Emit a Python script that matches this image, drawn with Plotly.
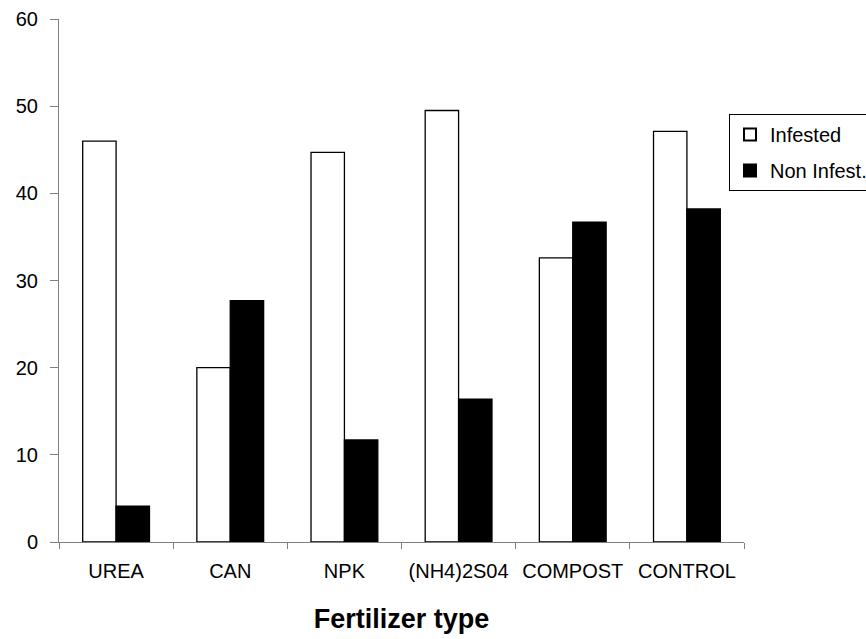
import plotly.graph_objects as go

categories = ["UREA", "CAN", "NPK", "(NH4)2S04", "COMPOST", "CONTROL"]
infested = [46.0, 20.0, 44.7, 49.5, 32.6, 47.1]
non_infested = [4.1, 27.7, 11.7, 16.4, 36.7, 38.2]
y_ticks = [0, 10, 20, 30, 40, 50, 60]

FONT = "Liberation Sans, Arial, sans-serif"

fig = go.Figure()
fig.add_trace(go.Bar(
    x=categories, y=infested, name="Infested", legendgroup="a",
    marker=dict(color="white", line=dict(color="black", width=1.3)),
))
fig.add_trace(go.Bar(
    x=categories, y=non_infested, name="Non Infest.", legendgroup="b",
    marker=dict(color="black", line=dict(color="black", width=1.3)),
))

W, H = 866, 639
L, R, T, B = 59.3, 122, 19.3, 96.7
plot_w = W - L - R
plot_h = H - T - B

fig.update_layout(
    width=W, height=H,
    margin=dict(l=L, r=R, t=T, b=B, pad=0, autoexpand=False),
    paper_bgcolor="white", plot_bgcolor="white",
    barmode="group", bargap=0.415, bargroupgap=0,
    font=dict(family=FONT, size=20, color="black"),
    showlegend=True,
    legend=dict(
        xref="paper", yref="paper",
        x=(729 - L) / plot_w, xanchor="left",
        y=1 - (114.3 - T) / plot_h, yanchor="top",
        bordercolor="black", borderwidth=1, bgcolor="white",
        font=dict(family=FONT, size=20, color="black"),
        tracegroupgap=7, traceorder="grouped",
        itemsizing="constant",
    ),
    xaxis=dict(
        type="category",
        showline=True, linecolor="#808080", linewidth=1,
        ticks="outside", ticklen=6, tickcolor="#808080", tickwidth=1,
        tickson="boundaries",
        showgrid=False, zeroline=False,
        tickfont=dict(family=FONT, size=20, color="black"),
        ticklabelstandoff=11,
        title=dict(text="<b>Fertilizer type</b>", standoff=28,
                   font=dict(family=FONT, size=27, color="black")),
        automargin=False,
    ),
    yaxis=dict(
        range=[0, 60], tickvals=y_ticks,
        showline=True, linecolor="#808080", linewidth=1,
        ticks="outside", ticklen=8, tickcolor="#808080", tickwidth=1,
        showgrid=False, zeroline=False,
        tickfont=dict(family=FONT, size=20, color="black"),
        ticklabelstandoff=8,
        automargin=False,
    ),
)

fig.write_html("out.html")
